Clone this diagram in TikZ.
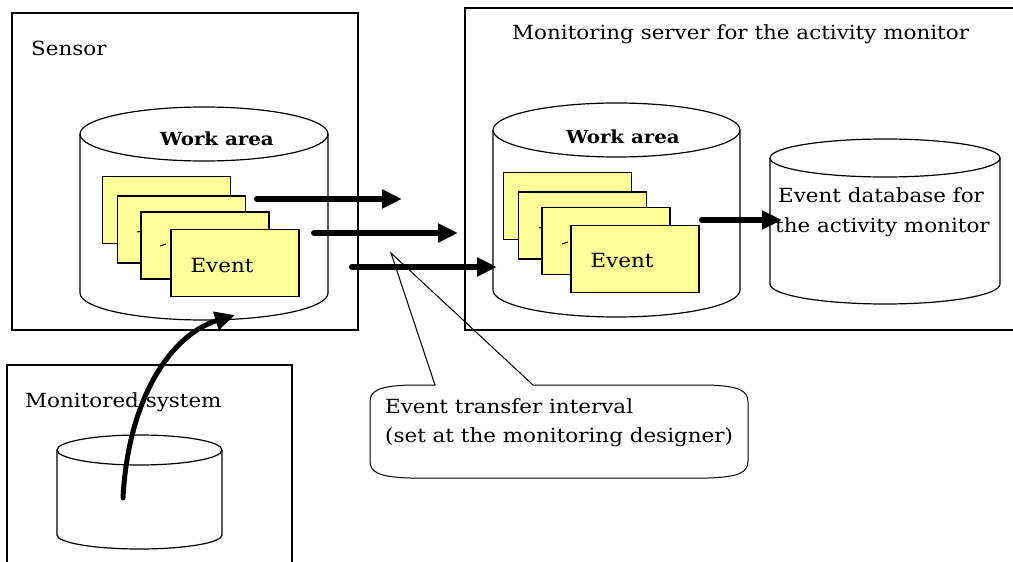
\documentclass[tikz,border=0pt]{standalone}
\usepackage{fontspec}
\setmainfont{DejaVu Serif}[FakeStretch=1.1]
\usetikzlibrary{arrows.meta}
\definecolor{cardyellow}{RGB}{255,255,153}
\tikzset{
  frame/.style={draw, line width=1.3pt},
  drum/.style={draw, line width=1.2pt},
  card/.style={draw, line width=1.2pt, fill=cardyellow, minimum width=128pt, minimum height=67pt, inner sep=0pt},
  txt/.style={inner sep=0pt, anchor=base west, font=\fontsize{19.5}{23}\selectfont},
  boldtxt/.style={inner sep=0pt, anchor=base, font=\fontsize{18}{22}\selectfont\bfseries},
  fat/.style={line width=6pt, line cap=round, -{Triangle[length=20pt,width=18pt]}},
  tick/.style={line width=1pt},
}
\begin{document}
\begin{tikzpicture}[x=1pt,y=-1pt]
\useasboundingbox (0,0) rectangle (1013,562);
\clip (0,0) rectangle (1013,562);
\draw[frame] (12,13) rectangle (358,330);
\draw[frame] (465,8) rectangle (1030,330);
\draw[frame] (7,365) rectangle (292,590);
\node[txt] (sensor) at (31,55) {Sensor};
\node[txt] (server) at (512,39) {Monitoring server for the activity monitor};
\node[txt] (monsys) at (25,407) {Monitored system};
% sensor work area
\draw[drum] (80,134) -- (80,293) arc[start angle=180, end angle=0, x radius=124, y radius=27] -- (328,134);
\draw[drum] (204,134) ellipse [x radius=124, y radius=27];
\node[boldtxt] (work1) at (217,145) {Work area};
\node[card] (s1) at (166.5,210) {};
\node[card] (s2) at (181.5,229.5) {};
\draw[tick] (137,232) -- (142,231);
\node[card] (s3) at (205,245.5) {};
\draw[tick] (160,246) -- (166,244);
\node[card] (s4) at (235,263) {};
\node[txt, anchor=base] (ev1) at (222,272) {Event};
% server work area
\draw[drum] (493,130) -- (493,290) arc[start angle=180, end angle=0, x radius=123.5, y radius=27] -- (740,130);
\draw[drum] (616.5,130) ellipse [x radius=123.5, y radius=27];
\node[boldtxt] (work2) at (623,143) {Work area};
\node[card] (m1) at (567.5,206) {};
\node[card] (m2) at (582.5,225.5) {};
\draw[tick] (539,228) -- (544,227);
\node[card] (m3) at (606,241) {};
\draw[tick] (562,244) -- (568,242);
\node[card] (m4) at (635,259) {};
\node[txt, anchor=base] (ev2) at (622,267) {Event};
% event database
\draw[drum] (770,158) -- (770,284) arc[start angle=180, end angle=0, x radius=115, y radius=20] -- (1000,158);
\draw[drum] (885,158) ellipse [x radius=115, y radius=19];
\node[txt] (db1) at (778,202) {Event database for};
\node[txt] (db2) at (775,232) {the activity monitor};
% monitored system store
\draw[drum] (57,450) -- (57,535) arc[start angle=180, end angle=0, x radius=82.5, y radius=14] -- (222,450);
\draw[drum] (139.5,450) ellipse [x radius=82.5, y radius=15];
% callout
\coordinate (tip) at (391,253);
\draw[line width=1pt] (435,385) -- (410,385) .. controls (378,386) and (370,391) .. (370,402)
  -- (370,461) .. controls (370,472) and (378,477) .. (410,478)
  -- (708,478) .. controls (740,477) and (748,472) .. (748,461)
  -- (748,402) .. controls (748,391) and (740,386) .. (708,385)
  -- (533,385) -- (tip) -- cycle;
\node[txt] (iv1) at (385,413) {Event transfer interval};
\node[txt] (iv2) at (385,442) {(set at the monitoring designer)};
% transfers
\coordinate (t1) at (257,199); \coordinate (h1) at (402,199);
\coordinate (t2) at (314,233); \coordinate (h2) at (458,233);
\coordinate (t3) at (352,267); \coordinate (h3) at (497,267);
\coordinate (t4) at (702,220); \coordinate (h4) at (782,220);
\draw[fat] (t1) -- (h1);
\draw[fat] (t2) -- (h2);
\draw[fat] (t3) -- (h3);
\draw[fat] (t4) -- (h4);
\coordinate (src) at (123,498); \coordinate (dst) at (235,315);
\draw[fat, line width=5pt] (src) .. controls (128,400) and (170,335) .. (dst);
\end{tikzpicture}
\end{document}
